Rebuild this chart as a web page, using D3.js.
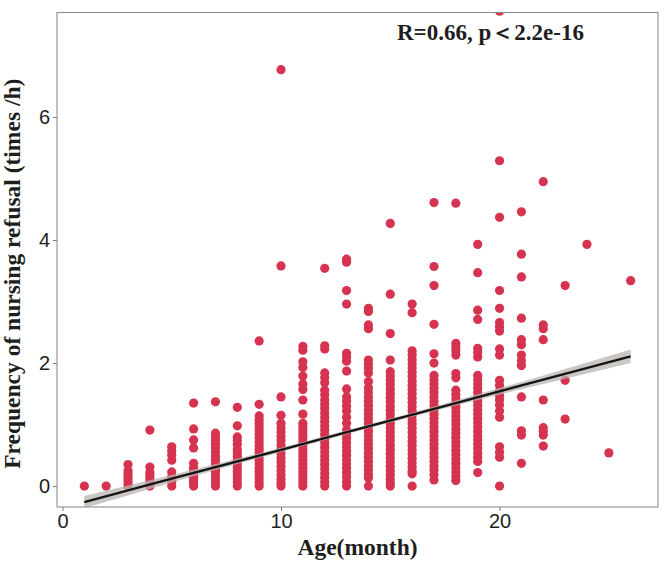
<!DOCTYPE html>
<html>
<head>
<meta charset="utf-8">
<script src="https://cdn.jsdelivr.net/npm/d3@7"></script>
<style>
  body { margin: 0; background: #fff; }
</style>
</head>
<body>
<div id="chart"></div>
<script>
// age of each column of points (months)
var months = [1, 2, 3, 4, 5, 6, 7, 8, 9, 10, 11, 12, 13, 14, 15, 16, 17, 18, 19, 20, 21, 22, 23, 24, 25, 26];

// refusal frequency (times/h)
var freqByMonth = [
  [0],
  [0],
  [0, 0.05, 0.1, 0.15, 0.2, 0.25, 0.35],
  [0, 0.04, 0.08, 0.13, 0.18, 0.22, 0.31, 0.91],
  [0, 0.07, 0.15, 0.23, 0.42, 0.5, 0.57, 0.64],
  [0, 0.04, 0.08, 0.12, 0.16, 0.2, 0.25, 0.3, 0.37, 0.62, 0.75, 0.93, 1.35],
  [0, 0.06, 0.12, 0.18, 0.24, 0.3, 0.36, 0.42, 0.48, 0.55, 0.62, 0.68, 0.74, 0.8, 0.86, 1.37],
  [0, 0.06, 0.12, 0.18, 0.24, 0.3, 0.36, 0.42, 0.48, 0.54, 0.6, 0.68, 0.74, 0.8, 0.98, 1.28],
  [0, 0.06, 0.12, 0.18, 0.24, 0.3, 0.36, 0.42, 0.48, 0.54, 0.6, 0.66, 0.72, 0.78, 0.84, 0.9, 0.96, 1.02, 1.08, 1.14, 1.33, 2.36],
  [0, 0.05, 0.11, 0.18, 0.25, 0.32, 0.39, 0.46, 0.53, 0.6, 0.67, 0.74, 0.81, 0.88, 0.95, 1.02, 1.15, 1.45, 3.58, 6.77],
  [0, 0.06, 0.12, 0.18, 0.24, 0.3, 0.36, 0.42, 0.48, 0.54, 0.6, 0.66, 0.72, 0.78, 0.84, 0.9, 0.96, 1.02, 1.17, 1.4, 1.57, 1.66, 1.79, 1.93, 2.02, 2.21, 2.27],
  [0, 0.07, 0.14, 0.21, 0.28, 0.35, 0.42, 0.49, 0.56, 0.63, 0.7, 0.77, 0.84, 0.91, 0.98, 1.05, 1.12, 1.19, 1.26, 1.33, 1.4, 1.48, 1.56, 1.68, 1.76, 1.84, 2.23, 2.28, 3.54],
  [0, 0.07, 0.15, 0.22, 0.29, 0.36, 0.43, 0.5, 0.57, 0.64, 0.71, 0.78, 0.85, 0.91, 1.02, 1.12, 1.22, 1.3, 1.38, 1.45, 1.58, 1.87, 2.03, 2.1, 2.16, 2.96, 3.18, 3.64, 3.69],
  [0, 0.13, 0.19, 0.26, 0.33, 0.4, 0.47, 0.54, 0.61, 0.68, 0.75, 0.82, 0.89, 0.96, 1.03, 1.1, 1.17, 1.24, 1.31, 1.38, 1.45, 1.52, 1.6, 1.7, 1.84, 1.91, 1.98, 2.05, 2.56, 2.62, 2.84, 2.89],
  [0, 0.05, 0.11, 0.18, 0.25, 0.32, 0.39, 0.46, 0.53, 0.6, 0.67, 0.74, 0.81, 0.88, 0.95, 1.02, 1.09, 1.16, 1.23, 1.3, 1.37, 1.44, 1.51, 1.58, 1.65, 1.72, 1.79, 1.86, 2.05, 2.48, 3.12, 4.27],
  [0, 0.2, 0.24, 0.31, 0.38, 0.45, 0.52, 0.59, 0.66, 0.73, 0.8, 0.87, 0.94, 1.01, 1.08, 1.15, 1.22, 1.29, 1.36, 1.43, 1.5, 1.57, 1.64, 1.71, 1.78, 1.85, 1.92, 1.99, 2.06, 2.13, 2.2, 2.82, 2.96],
  [0.1, 0.19, 0.26, 0.33, 0.4, 0.47, 0.54, 0.61, 0.68, 0.75, 0.82, 0.89, 0.96, 1.03, 1.1, 1.17, 1.24, 1.31, 1.38, 1.45, 1.52, 1.59, 1.66, 1.73, 1.8, 2.0, 2.15, 2.63, 3.26, 3.57, 4.61],
  [0.09, 0.16, 0.23, 0.3, 0.37, 0.44, 0.51, 0.58, 0.65, 0.72, 0.79, 0.86, 0.93, 1.0, 1.07, 1.14, 1.21, 1.28, 1.35, 1.42, 1.49, 1.56, 1.76, 1.83, 2.13, 2.2, 2.26, 2.32, 4.6],
  [0.22, 0.4, 0.47, 0.54, 0.61, 0.68, 0.75, 0.82, 0.89, 0.96, 1.03, 1.1, 1.17, 1.24, 1.31, 1.38, 1.45, 1.52, 1.59, 1.66, 1.73, 1.8, 2.1, 2.17, 2.24, 2.71, 2.86, 3.47, 3.93],
  [0, 0.47, 0.55, 0.64, 1.12, 1.22, 1.32, 1.4, 1.47, 1.55, 1.64, 1.72, 2.13, 2.23, 2.52, 2.59, 2.66, 2.89, 3.18, 4.37, 5.29, 7.72],
  [0.37, 0.83, 0.9, 1.45, 1.96, 2.04, 2.13, 2.3, 2.38, 2.73, 3.4, 3.77, 4.46],
  [0.65, 0.83, 0.89, 0.95, 1.4, 2.38, 2.56, 2.62, 4.95],
  [1.09, 1.72, 3.26],
  [3.93],
  [0.54],
  [3.34]
];

// fitted line and ribbon half-width, read at a few ages
var fitAge = [1, 5, 10, 14, 18, 22, 26];
var fitValue = [-0.26, 0.12, 0.59, 0.97, 1.35, 1.73, 2.11];
var fitHalfWidth = [0.1, 0.06, 0.035, 0.03, 0.04, 0.07, 0.11];

var xTicks = [0, 10, 20];
var yTicks = [0, 2, 4, 6];

var dotColor = "#d5334f";

// set the dimensions and margins of the graph
var margin = {top: 12.5, right: 6, bottom: 56, left: 57},
    width = 664 - margin.left - margin.right,
    height = 563 - margin.top - margin.bottom;

var svg = d3.select("#chart")
  .append("svg")
    .attr("width", 664)
    .attr("height", 563)
  .append("g")
    .attr("transform", "translate(" + margin.left + "," + margin.top + ")");

var x = d3.scaleLinear()
  .domain([-0.25, 27.25])
  .range([0, width]);

var y = d3.scaleLinear()
  .domain([-0.34, 7.7])
  .range([height, 0]);

// clip to the panel like ggplot does
svg.append("clipPath")
    .attr("id", "panel")
  .append("rect")
    .attr("width", width)
    .attr("height", height);

var plot = svg.append("g").attr("clip-path", "url(#panel)");

// flatten columns into points
var points = [];
months.forEach(function(m, i) {
  freqByMonth[i].forEach(function(v) { points.push({age: m, freq: v}); });
});

plot.selectAll("circle")
  .data(points)
  .enter()
  .append("circle")
    .attr("cx", function(d) { return x(d.age); })
    .attr("cy", function(d) { return y(d.freq); })
    .attr("r", 4.6)
    .style("fill", dotColor);

// confidence band + fit
var fit = fitAge.map(function(a, i) { return {age: a, v: fitValue[i], h: fitHalfWidth[i]}; });

plot.append("path")
  .datum(fit)
  .attr("d", d3.area()
    .curve(d3.curveMonotoneX)
    .x(function(d) { return x(d.age); })
    .y0(function(d) { return y(d.v - d.h); })
    .y1(function(d) { return y(d.v + d.h); }))
  .style("fill", "#b8b4b0")
  .style("opacity", 0.75);

plot.append("path")
  .datum(fit)
  .attr("d", d3.line()
    .x(function(d) { return x(d.age); })
    .y(function(d) { return y(d.v); }))
  .style("fill", "none")
  .style("stroke", "#151515")
  .style("stroke-width", 2.4);

// panel border
svg.append("rect")
  .attr("width", width)
  .attr("height", height)
  .style("fill", "none")
  .style("stroke", "#8f8f8f")
  .style("stroke-width", 1.1);

// axes
var xAxis = svg.append("g")
  .attr("transform", "translate(0," + height + ")")
  .call(d3.axisBottom(x).tickValues(xTicks).tickSize(4).tickPadding(3));

var yAxis = svg.append("g")
  .call(d3.axisLeft(y).tickValues(yTicks).tickSize(4).tickPadding(3));

[xAxis, yAxis].forEach(function(a) {
  a.select(".domain").remove();
  a.selectAll(".tick line").style("stroke", "#7a7a7a");
  a.selectAll(".tick text")
    .style("font-family", "'Liberation Sans', Arial, sans-serif")
    .style("font-size", "20px")
    .style("fill", "#1e1e1e");
});

// axis titles
svg.append("text")
  .attr("x", width / 2)
  .attr("y", height + 48)
  .attr("text-anchor", "middle")
  .style("font-family", "'Liberation Serif', 'Times New Roman', serif")
  .style("font-weight", "bold")
  .style("font-size", "23.5px")
  .style("fill", "#1e1e1e")
  .text("Age(month)");

svg.append("text")
  .attr("transform", "translate(" + (-37) + "," + (height / 2 + 14) + ") rotate(-90)")
  .attr("text-anchor", "middle")
  .style("font-family", "'Liberation Serif', 'Times New Roman', serif")
  .style("font-weight", "bold")
  .style("font-size", "23.5px")
  .style("fill", "#1e1e1e")
  .text("Frequency of nursing refusal (times /h)");

// correlation label
svg.append("text")
  .attr("x", 340)
  .attr("y", 27)
  .style("font-family", "'Liberation Serif', 'Times New Roman', serif")
  .style("font-weight", "bold")
  .style("font-size", "23px")
  .style("fill", "#1e1e1e")
  .text("R=0.66, p\uFF1C2.2e-16");
</script>
</body>
</html>
